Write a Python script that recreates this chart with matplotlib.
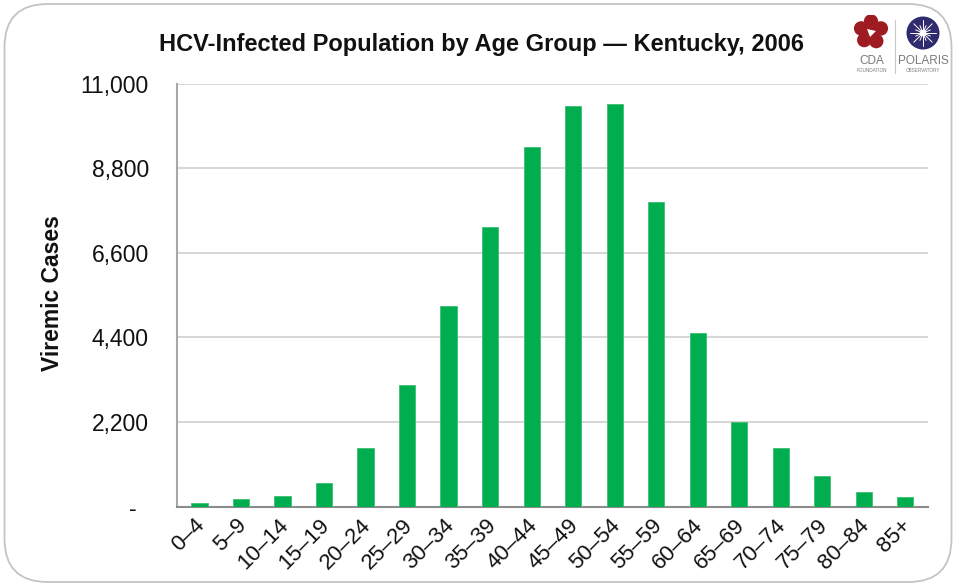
import numpy as np
import matplotlib
matplotlib.use("Agg")
import matplotlib.pyplot as plt
import matplotlib.transforms as mtransforms
from matplotlib.patches import FancyBboxPatch, Circle, Polygon
from matplotlib.ticker import FuncFormatter

plt.rcParams['font.family'] = ['Liberation Sans', 'DejaVu Sans']

age_groups = ["0–4", "5–9", "10–14", "15–19", "20–24", "25–29", "30–34", "35–39",
              "40–44", "45–49", "50–54", "55–59", "60–64", "65–69", "70–74", "75–79",
              "80–84", "85+"]
viremic_cases = [100, 190, 285, 615, 1510, 3150, 5210, 7270, 9340, 10420,
                 10470, 7920, 4500, 2210, 1510, 800, 375, 235]
y_ticks = [0, 2200, 4400, 6600, 8800, 11000]

title = "HCV-Infected Population by Age Group — Kentucky, 2006"
y_label = "Viremic Cases"

W, H = 959, 587
fig = plt.figure(figsize=(W / 100, H / 100), dpi=100)

# rounded outer frame
frame = FancyBboxPatch((4.5 / W, 5 / H), (951.5 - 4.5) / W, (586 - 8) / H,
                       boxstyle="round,pad=0,rounding_size=0.045",
                       transform=fig.transFigure, facecolor="none",
                       edgecolor="#c4c4c4", linewidth=1.3,
                       mutation_aspect=W / H, zorder=-1)
fig.patches.append(frame)

ax = fig.add_axes([176.7 / W, 1 - 506.5 / H, (928 - 176.7) / W, (506.5 - 83.5) / H])
ax.set_facecolor("none")

x = np.arange(len(age_groups))
ax.bar(x, viremic_cases, width=0.39, color="#00AE4F", edgecolor="#3cc070",
       linewidth=0.6, zorder=3)

ax.set_xlim(-0.55, len(age_groups) - 0.45)
ax.set_ylim(0, 11000)
ax.set_yticks(y_ticks)
ax.yaxis.set_major_formatter(FuncFormatter(lambda v, p: "-  " if v == 0 else f"{int(v):,}"))
ax.grid(axis="y", color="#d0d0d0", linewidth=1.2, zorder=0)
ax.tick_params(axis="y", length=0, pad=20, labelsize=16.5, colors="#111111")
ax.tick_params(axis="x", length=0, pad=6, labelsize=16, colors="#111111")
ax.set_xticks(x)
ax.set_xticklabels(age_groups, rotation=45, ha="right", va="top",
                   rotation_mode="anchor")
shift = mtransforms.ScaledTranslation(-5 / 100, 0, fig.dpi_scale_trans)
for lbl in ax.get_xticklabels():
    lbl.set_transform(lbl.get_transform() + shift)

for s in ["top", "right"]:
    ax.spines[s].set_visible(False)
ax.spines["left"].set_color("#a8a8a8")
ax.spines["left"].set_linewidth(1.5)
ax.spines["bottom"].set_color("#8c8c8c")
ax.spines["bottom"].set_linewidth(1.5)

fig.text(481 / W, 1 - 44 / H, title, ha="center", va="center",
         fontsize=17, fontweight="bold", color="#111111")
fig.text(53 / W, 1 - 293 / H, y_label, ha="center", va="center", rotation=90,
         fontsize=16.5, fontweight="bold", color="#111111")

# organisation marks in the upper right corner
lx = fig.add_axes([845 / W, 1 - 80 / H, 110 / W, 65 / H])
lx.set_xlim(845, 955)
lx.set_ylim(80, 15)
lx.set_aspect("equal")
lx.axis("off")

red = "#9e1b22"
cx, cy = 871, 32
for ang in np.deg2rad([90, 160, 230, 300, 20]):
    lx.add_patch(Circle((cx + 10.5 * np.cos(ang), cy - 10.5 * np.sin(ang)), 7.2,
                        color=red, lw=0))
lx.add_patch(Circle((cx, cy), 10, color=red, lw=0))
lx.add_patch(Polygon([[cx - 4, cy - 3], [cx + 5, cy - 1], [cx - 1, cy + 5]],
                     closed=True, color="white", lw=0))
lx.text(872, 61.5, "CDA", ha="center", va="center", fontsize=8.5, color="#7a7a7a")
lx.text(872, 70.5, "FOUNDATION", ha="center", va="center", fontsize=3.3, color="#7a7a7a")

lx.plot([895, 895], [20, 73], color="#c8c8c8", lw=0.8)

px, py = 923, 33
lx.add_patch(Circle((px, py), 16.5, color="#2f2b6e", lw=0))
for ang in np.deg2rad(np.arange(0, 180, 22.5)):
    r = 13 if int(round(np.rad2deg(ang))) % 45 == 0 else 8
    lx.plot([px - r * np.cos(ang), px + r * np.cos(ang)],
            [py - r * np.sin(ang), py + r * np.sin(ang)],
            color="white", lw=0.7, solid_capstyle="round")
lx.add_patch(Circle((px, py), 3.2, color="white", lw=0))
lx.text(923, 61.5, "POLARIS", ha="center", va="center", fontsize=8.5, color="#7a7a7a")
lx.text(923, 70.5, "OBSERVATORY", ha="center", va="center", fontsize=3.3, color="#7a7a7a")

fig.savefig("out.png", dpi=100)
